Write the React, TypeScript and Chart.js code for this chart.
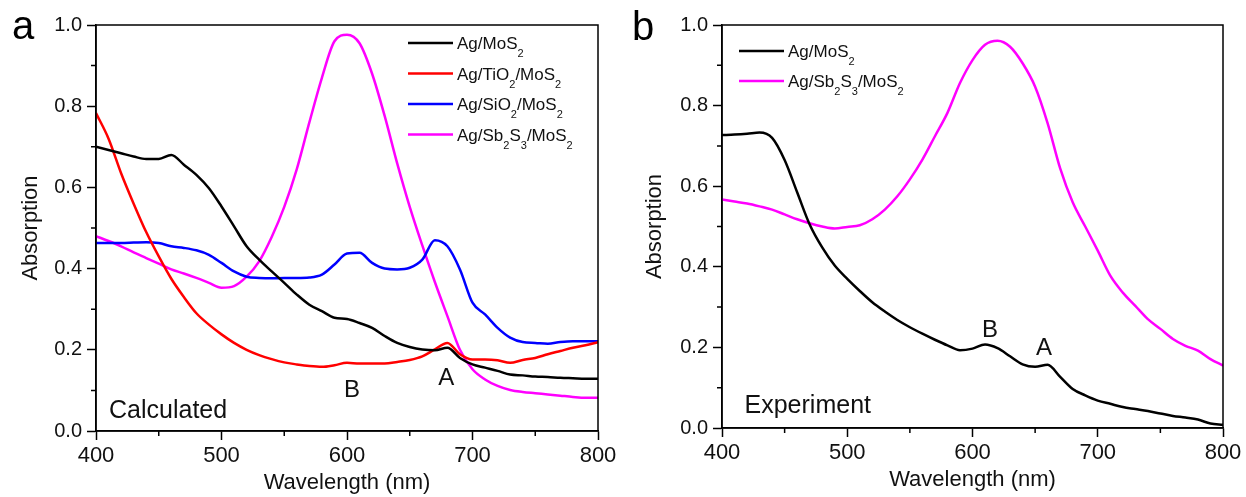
import React, { useEffect, useRef } from 'react';
import { Chart, registerables } from 'chart.js';

Chart.register(...registerables);

const FONT = '"Liberation Sans", Arial, sans-serif';

// ---------- Data ----------
const wavelengths = [
  400, 410, 420, 430, 440, 450, 460, 470, 480, 490, 500, 510, 520, 530, 540, 550, 560, 570, 580, 590,
  600, 610, 620, 630, 640, 650, 660, 670, 680, 690, 700, 710, 720, 730, 740, 750, 760, 770, 780, 790, 800,
];

// Panel a (Calculated)
const calcAgMoS2 = [
  0.700, 0.692, 0.684, 0.676, 0.670, 0.670, 0.680, 0.656, 0.631, 0.598, 0.553, 0.504, 0.455, 0.422, 0.393,
  0.365, 0.336, 0.311, 0.295, 0.279, 0.276, 0.266, 0.254, 0.234, 0.217, 0.207, 0.201, 0.199, 0.205, 0.180,
  0.164, 0.156, 0.148, 0.139, 0.137, 0.134, 0.133, 0.131, 0.130, 0.129, 0.129,
];
const calcAgTiO2MoS2 = [
  0.783, 0.720, 0.635, 0.560, 0.490, 0.430, 0.375, 0.330, 0.290, 0.262, 0.238, 0.217, 0.200, 0.187, 0.177,
  0.169, 0.164, 0.160, 0.158, 0.162, 0.168, 0.166, 0.166, 0.166, 0.170, 0.175, 0.184, 0.201, 0.217, 0.189,
  0.176, 0.176, 0.174, 0.168, 0.175, 0.180, 0.189, 0.197, 0.205, 0.211, 0.219,
];
const calcAgSiO2MoS2 = [
  0.463, 0.463, 0.463, 0.464, 0.465, 0.463, 0.455, 0.451, 0.445, 0.434, 0.414, 0.393, 0.380, 0.377, 0.376,
  0.377, 0.377, 0.378, 0.385, 0.410, 0.437, 0.439, 0.414, 0.400, 0.398, 0.402, 0.422, 0.470, 0.455, 0.398,
  0.316, 0.287, 0.254, 0.230, 0.219, 0.217, 0.215, 0.219, 0.221, 0.221, 0.221,
];
const calcAgSb2S3MoS2 = [
  0.480, 0.468, 0.455, 0.440, 0.426, 0.412, 0.398, 0.388, 0.377, 0.365, 0.353, 0.357, 0.380, 0.418, 0.478,
  0.552, 0.645, 0.760, 0.870, 0.960, 0.976, 0.955, 0.880, 0.776, 0.659, 0.552, 0.457, 0.367, 0.283, 0.200,
  0.152, 0.127, 0.111, 0.101, 0.096, 0.093, 0.090, 0.087, 0.084, 0.082, 0.082,
];

// Panel b (Experiment)
const expAgMoS2 = [
  0.727, 0.728, 0.730, 0.733, 0.720, 0.665, 0.585, 0.505, 0.448, 0.403, 0.370, 0.340, 0.312, 0.289, 0.268,
  0.250, 0.234, 0.219, 0.205, 0.193, 0.197, 0.207, 0.198, 0.178, 0.158, 0.152, 0.157, 0.127, 0.097, 0.081,
  0.068, 0.060, 0.052, 0.047, 0.042, 0.036, 0.030, 0.026, 0.021, 0.011, 0.008,
];
const expAgSb2S3MoS2 = [
  0.567, 0.562, 0.557, 0.550, 0.542, 0.530, 0.518, 0.508, 0.500, 0.495, 0.499, 0.503, 0.518, 0.542, 0.575,
  0.617, 0.666, 0.724, 0.782, 0.856, 0.913, 0.951, 0.961, 0.946, 0.905, 0.847, 0.756, 0.644, 0.560, 0.500,
  0.440, 0.378, 0.336, 0.303, 0.270, 0.246, 0.221, 0.204, 0.192, 0.171, 0.155,
];

const labelsA = ['Ag/MoS_2', 'Ag/TiO_2/MoS_2', 'Ag/SiO_2/MoS_2', 'Ag/Sb_2S_3/MoS_2'];
const colorsA = ['#000000', '#ff0000', '#0000ff', '#ff00ff'];
const labelsB = ['Ag/MoS_2', 'Ag/Sb_2S_3/MoS_2'];
const colorsB = ['#000000', '#ff00ff'];

const xTicks = [400, 500, 600, 700, 800];
const yTicks = [0.0, 0.2, 0.4, 0.6, 0.8, 1.0];
const xMinorTicks = [450, 550, 650, 750];
const yMinorTicks = [0.1, 0.3, 0.5, 0.7, 0.9];

// annotations: [text, wavelength, absorption, size, align]
const notesA: [string, number, number, number, CanvasTextAlign][] = [
  ['Calculated', 410.4, 0.032, 25, 'left'],
  ['B', 604, 0.084, 24, 'center'],
  ['A', 679, 0.113, 24, 'center'],
];
const notesB: [string, number, number, number, CanvasTextAlign][] = [
  ['Experiment', 418, 0.037, 25, 'left'],
  ['B', 614, 0.226, 24, 'center'],
  ['A', 657, 0.181, 24, 'center'],
];

// ---------- helpers ----------
function drawRich(ctx: CanvasRenderingContext2D, text: string, x: number, y: number, size: number) {
  let cx = x;
  const parts = text.split(/(_\d)/);
  for (const p of parts) {
    if (!p) continue;
    if (p.startsWith('_')) {
      const s = p.slice(1);
      ctx.font = `${Math.round(size * 0.62)}px ${FONT}`;
      ctx.fillText(s, cx, y + 8);
      cx += ctx.measureText(s).width;
    } else {
      ctx.font = `${size}px ${FONT}`;
      ctx.fillText(p, cx, y);
      cx += ctx.measureText(p).width;
    }
  }
}

type PanelCfg = {
  width: number;
  yAxisWidth: number;
  xAxisHeight: number;
  padRight: number;
  padTop: number;
  yTitlePad: number;
  xTitlePad: number;
  letter: string;
  letterX: number;
  letterY: number;
  series: number[][];
  labels: string[];
  colors: string[];
  legendX0: number;
  legendX1: number;
  legendTextX: number;
  legendY0: number;
  legendStep: number;
  notes: [string, number, number, number, CanvasTextAlign][];
};

function Panel({ cfg }: { cfg: PanelCfg }) {
  const ref = useRef<HTMLCanvasElement | null>(null);
  useEffect(() => {
    if (!ref.current) return;
    const decor = {
      id: 'decor',
      afterDraw(chart: any) {
        const { ctx, chartArea, scales } = chart;
        const xs = scales.x;
        const ys = scales.y;
        ctx.save();
        // frame
        ctx.strokeStyle = '#000';
        ctx.lineWidth = 1.5;
        ctx.strokeRect(chartArea.left, chartArea.top, chartArea.right - chartArea.left, chartArea.bottom - chartArea.top);
        // minor ticks
        ctx.beginPath();
        for (const v of xMinorTicks) {
          const px = xs.getPixelForValue(v);
          ctx.moveTo(px, chartArea.bottom);
          ctx.lineTo(px, chartArea.bottom + 5);
        }
        for (const v of yMinorTicks) {
          const py = ys.getPixelForValue(v);
          ctx.moveTo(chartArea.left, py);
          ctx.lineTo(chartArea.left - 5, py);
        }
        ctx.stroke();
        // panel letter
        ctx.fillStyle = '#000';
        ctx.textBaseline = 'alphabetic';
        ctx.textAlign = 'left';
        ctx.font = `40px ${FONT}`;
        ctx.fillText(cfg.letter, cfg.letterX, cfg.letterY);
        // notes
        ctx.fillStyle = '#111';
        for (const [t, wl, v, size, align] of cfg.notes) {
          ctx.font = `${size}px ${FONT}`;
          ctx.textAlign = align;
          ctx.fillText(t, xs.getPixelForValue(wl), ys.getPixelForValue(v));
        }
        // legend
        ctx.textAlign = 'left';
        cfg.labels.forEach((lab, i) => {
          const y = cfg.legendY0 + i * cfg.legendStep;
          ctx.strokeStyle = cfg.colors[i];
          ctx.lineWidth = 2.5;
          ctx.beginPath();
          ctx.moveTo(cfg.legendX0, y);
          ctx.lineTo(cfg.legendX1, y);
          ctx.stroke();
          ctx.fillStyle = '#111';
          drawRich(ctx, lab, cfg.legendTextX, y + 6, 17);
        });
        ctx.restore();
      },
    };

    const chart = new Chart(ref.current, {
      type: 'line',
      data: {
        labels: wavelengths,
        datasets: cfg.series.map((s, i) => ({
          label: cfg.labels[i],
          data: s.map((v, j) => ({ x: wavelengths[j], y: v })),
          borderColor: cfg.colors[i],
          backgroundColor: cfg.colors[i],
          borderWidth: 2.5,
          pointRadius: 0,
          cubicInterpolationMode: 'monotone' as const,
          fill: false,
        })),
      },
      options: {
        animation: false,
        responsive: false,
        devicePixelRatio: 1,
        layout: { padding: { left: 0, right: cfg.padRight, top: cfg.padTop, bottom: 0 } },
        plugins: { legend: { display: false }, tooltip: { enabled: false } },
        scales: {
          x: {
            type: 'linear',
            min: 400,
            max: 800,
            afterBuildTicks: (s: any) => { s.ticks = xTicks.map((v) => ({ value: v })); },
            afterFit: (s: any) => { s.height = cfg.xAxisHeight; },
            ticks: {
              color: '#111',
              font: { family: FONT, size: 22 },
              padding: 3,
              maxRotation: 0,
              callback: (v: any) => String(v),
            },
            grid: { display: true, drawOnChartArea: false, drawTicks: true, tickLength: 9, tickColor: '#000', tickWidth: 1.5 },
            border: { display: true, color: '#000', width: 1.5 },
            title: {
              display: true,
              text: 'Wavelength (nm)',
              color: '#111',
              font: { family: FONT, size: 22 },
              padding: { top: 0, bottom: cfg.xTitlePad },
            },
          },
          y: {
            type: 'linear',
            min: 0,
            max: 1,
            afterBuildTicks: (s: any) => { s.ticks = yTicks.map((v) => ({ value: v })); },
            afterFit: (s: any) => { s.width = cfg.yAxisWidth; },
            ticks: {
              color: '#111',
              font: { family: FONT, size: 20 },
              padding: 5,
              callback: (v: any) => Number(v).toFixed(1),
            },
            grid: { display: true, drawOnChartArea: false, drawTicks: true, tickLength: 9, tickColor: '#000', tickWidth: 1.5 },
            border: { display: true, color: '#000', width: 1.5 },
            title: {
              display: true,
              text: 'Absorption',
              color: '#111',
              font: { family: FONT, size: 22 },
              padding: { top: cfg.yTitlePad, bottom: 0 },
            },
          },
        },
      },
      plugins: [decor],
    });
    return () => chart.destroy();
  }, []);
  return <canvas ref={ref} width={cfg.width} height={497} style={{ display: 'block', width: cfg.width, height: 497 }} />;
}

const panelA: PanelCfg = {
  width: 620,
  yAxisWidth: 96,
  xAxisHeight: 66,
  padRight: 22,
  padTop: 25,
  yTitlePad: 18,
  xTitlePad: 1,
  letter: 'a',
  letterX: 12,
  letterY: 39,
  series: [calcAgMoS2, calcAgTiO2MoS2, calcAgSiO2MoS2, calcAgSb2S3MoS2],
  labels: labelsA,
  colors: colorsA,
  legendX0: 408,
  legendX1: 453,
  legendTextX: 457,
  legendY0: 43,
  legendStep: 30.5,
  notes: notesA,
};

const panelB: PanelCfg = {
  width: 626,
  yAxisWidth: 102,
  xAxisHeight: 69,
  padRight: 23,
  padTop: 25,
  yTitlePad: 22,
  xTitlePad: 4,
  letter: 'b',
  letterX: 12,
  letterY: 40,
  series: [expAgMoS2, expAgSb2S3MoS2],
  labels: labelsB,
  colors: colorsB,
  legendX0: 119,
  legendX1: 164,
  legendTextX: 168,
  legendY0: 51,
  legendStep: 30,
  notes: notesB,
};

export default function App() {
  return (
    <div style={{ position: 'absolute', left: 0, top: 0, width: 1246, height: 497, background: '#fff', display: 'flex' }}>
      <Panel cfg={panelA} />
      <Panel cfg={panelB} />
    </div>
  );
}
